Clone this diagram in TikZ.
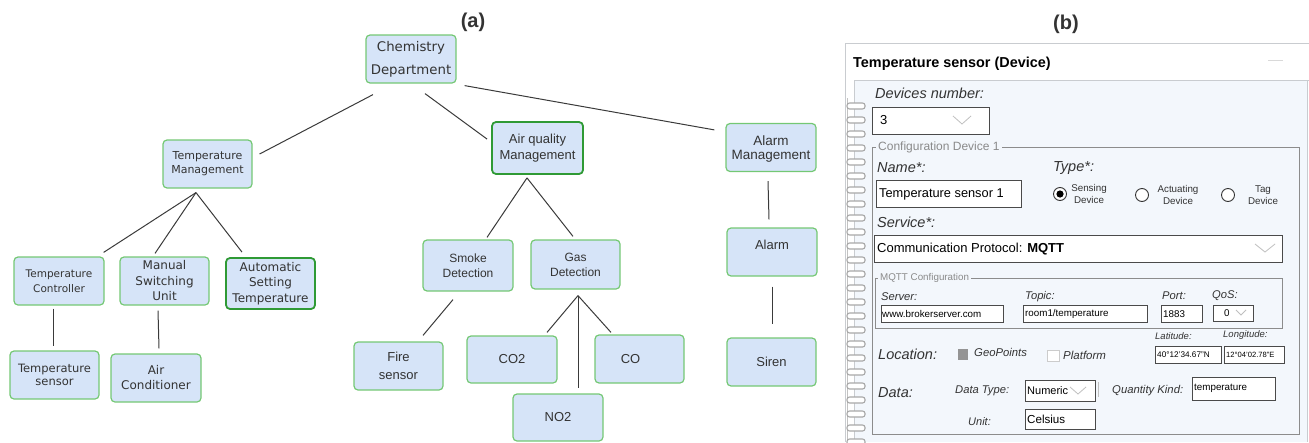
\documentclass[tikz,border=0pt]{standalone}
\usepackage{fontspec}
\setmainfont{Liberation Sans}
\newfontfamily\dvs{DejaVu Sans}
\usetikzlibrary{calc}

\definecolor{nodefill}{HTML}{D6E4F8}
\definecolor{nodeline}{HTML}{74C874}
\definecolor{nodelinedk}{HTML}{2F9A35}
\definecolor{edgecol}{HTML}{3A3A3A}
\definecolor{panelfill}{HTML}{F3F7FC}
\definecolor{panelline}{HTML}{C9CCD0}
\definecolor{boxline}{HTML}{8C8C8C}
\definecolor{fieldline}{HTML}{4A4A4A}
\definecolor{captioncol}{HTML}{8A8A8A}
\definecolor{ringcol}{HTML}{A8A8A8}
\definecolor{txt}{HTML}{333333}

\begin{document}
\begin{tikzpicture}[x=1pt,y=-1pt,
  box/.style={draw=nodeline, fill=nodefill, rounded corners=4pt, line width=1.2pt,
    minimum width=90pt, minimum height=48pt, align=center, inner sep=0pt, text=txt},
  boxdk/.style={box, draw=nodelinedk, line width=1.8pt},
  dvf/.style 2 args={font=\dvs\fontsize{#1}{#2}\selectfont},
  lbf/.style 2 args={font=\fontsize{#1}{#2}\selectfont},
  edge/.style={draw=edgecol, line width=1pt},
  lab/.style={anchor=west, inner sep=0pt, text=txt, font=\itshape\fontsize{#1}{#1}\selectfont},
  ftxt/.style={anchor=west, inner sep=0pt, text=black, font=\fontsize{#1}{#1}\selectfont},
  cap/.style={anchor=west, inner xsep=2pt, inner ysep=0pt, fill=panelfill, text=captioncol, font=\fontsize{#1}{#1}\selectfont},
  field/.style={draw=fieldline, fill=white, line width=0.9pt},
  chev/.style={draw=black!25, line width=0.8pt},
  ring/.style={draw=ringcol, fill=white, line width=1.1pt, rounded corners=2.5pt},
  radio/.style={draw=black!80, fill=white, line width=0.9pt},
  rtxt/.style={align=center, inner sep=0pt, text=txt, font=\fontsize{9.8}{11.5}\selectfont},
  title/.style={font=\bfseries\fontsize{20}{20}\selectfont, text=txt, inner sep=0pt}
]
\useasboundingbox (0,0) rectangle (1309,442);

% ---------------- (a) hierarchy ----------------
\node[title] (ta) at (473,22) {(a)};

\node[box, dvf={13.3}{23}] (chem) at (411,59) {Chemistry\\Department};
\node[box, dvf={11}{14}, minimum width=89pt] (tm) at (207.5,164) {Temperature\\Management};
\node[boxdk, lbf={13}{16}, minimum width=91pt, minimum height=52pt] (aq) at (537.5,148) {Air quality\\Management};
\node[box, lbf={13.5}{13.5}, text depth=-2pt] (am) at (771,147.5) {Alarm\\Management};

\node[box, dvf={10.5}{15}] (tc) at (59,281) {Temperature\\Controller};
\node[box, dvf={12}{15.5}, minimum width=89pt] (msu) at (164.5,281) {Manual\\Switching\\Unit};
\node[boxdk, dvf={12}{15.5}, minimum width=89pt, minimum height=51pt] (ast) at (270.5,283.5) {Automatic\\Setting\\Temperature};
\node[box, dvf={11.5}{13.5}, minimum width=89pt] (ts) at (54.5,375) {Temperature\\sensor};
\node[box, dvf={12}{15}] (ac) at (156,378) {Air\\Conditioner};

\node[box, lbf={12}{15}, minimum height=51pt] (sd) at (468,265.5) {Smoke\\Detection};
\node[box, lbf={12}{15}, minimum width=89pt, minimum height=49pt] (gd) at (575.5,264.5) {Gas\\Detection};
\node[box, lbf={13}{18}, minimum width=89pt] (fs) at (398.5,366) {Fire\\sensor};
\node[box, lbf={13}{15}, minimum height=47pt] (co2) at (512,359.5) {CO2};
\node[box, lbf={13}{15}, minimum width=89pt] (co) at (639.5,359) {CO\hspace*{18pt}};
\node[box, lbf={13}{15}, minimum height=47pt] (no2) at (558,417.5) {NO2};

\node[box, lbf={13}{15}, text depth=14pt] (al) at (772,252) {Alarm};
\node[box, lbf={13}{15}, minimum width=89pt] (si) at (771.5,362) {Siren};

% connectors
\coordinate (tmj) at ($(tm.south)+(-11.5,4)$);
\coordinate (aqj) at ($(aq.south)+(-10.5,3)$);
\coordinate (gdj) at ($(gd.south)+(2.5,6)$);

\draw[edge] ($(chem.south)+(-38,11)$) -- ($(tm.east)+(7,-10)$);
\draw[edge] ($(chem.south)+(14,10)$) -- ($(aq.north west)+(-4,18)$);
\draw[edge] ($(chem.south east)+(8,2)$) -- ($(am.north west)+(-11,7)$);

\draw[edge] (tmj) -- ($(tc.north east)+(-1,-4)$);
\draw[edge] (tmj) -- ($(msu.north)+(-9.5,-3)$);
\draw[edge] (tmj) -- ($(ast.north)+(-28.5,-5)$);
\draw[edge] ($(tc.south)+(-6,3)$) -- ($(ts.north)+(-1.5,-4)$);
\draw[edge] ($(msu.south)+(-6.5,5)$) -- ($(ac.north)+(3,-5)$);

\draw[edge] (aqj) -- ($(sd.north)+(19,-2)$);
\draw[edge] (aqj) -- ($(gd.north)+(-2.5,-3)$);
\draw[edge] ($(sd.south)+(-15,8)$) -- ($(fs.north)+(24.5,-6)$);
\draw[edge] (gdj) -- ($(co2.north)+(35,-3)$);
\draw[edge] (gdj) -- ($(no2.north)+(20,-5)$);
\draw[edge] (gdj) -- ($(co.north)+(-28.5,-2)$);

\draw[edge] ($(am.south)+(-3,9)$) -- ($(al.north)+(-3,-8)$);
\draw[edge] ($(al.south)+(0,10)$) -- ($(si.north)+(0.5,-13)$);

% ---------------- (b) device form ----------------
\node[title] (tb) at (1066,24) {(b)};

% window card and header
\draw[panelline, line width=0.8pt] (1309,43) -- (845,43) -- (845,442);
\node[anchor=west, inner sep=0pt, text=black, font=\bfseries\fontsize{14.4}{16}\selectfont] (hdr) at (853,64) {Temperature sensor (Device)};
\draw[black!15, line width=1pt] (1268,60) -- (1283,60);

% notebook page
\fill[panelfill] (854,80) rectangle (1307,442);
\draw[panelline, line width=0.8pt] (854,442) -- (854,80) -- (1309,80);
\draw[panelline, line width=0.8pt] (1307,80) -- (1307,442);

% spiral binding
\draw[ringcol!70, line width=1pt] (847,98) -- (847,442);
\foreach \k in {0,...,24} {
  \pgfmathsetmacro\yy{106+14*\k}
  \draw[ring] (847,\yy-3) rectangle (865,\yy+3);
}

% devices number
\node[lab=14.5] (dnl) at (875,93) {Devices number:};
\draw[field] (872,107) rectangle (989,134);
\node[ftxt=13] (dnv) at (880,120.5) {3};
\draw[chev] (953,116) -- (962,124) -- (971,116);

% configuration group
\draw[boxline, line width=0.8pt] (872,147) rectangle (1299,434);
\node[cap=12] (cfg) at (876,147) {Configuration Device 1};

\node[lab=14.5] (nml) at (877,168) {Name*:};
\node[lab=14.5] (tyl) at (1053,168) {Type*:};
\draw[field] (876,180) rectangle (1021,207);
\node[ftxt=12.8] (nmv) at (879,194) {Temperature sensor 1};

\draw[radio] (1060,194) circle (6.5);
\fill[black] (1060,194) circle (3.6);
\node[rtxt] (rs) at (1089,194) {Sensing\\Device};
\draw[radio] (1142,195) circle (6.5);
\node[rtxt] (ra) at (1178,195) {Actuating\\Device};
\draw[radio] (1228,195) circle (6.5);
\node[rtxt] (rt) at (1263,195) {Tag\\Device};

\node[lab=14.5] (svl) at (877,222) {Service*:};
\draw[field] (874,235) rectangle (1282,262);
\node[ftxt=13] (svv) at (877,249) {Communication Protocol: \textbf{MQTT}};
\draw[chev] (1255,244) -- (1265,252) -- (1275,244);

% MQTT group
\draw[boxline, line width=0.8pt] (875,278) rectangle (1282,328);
\node[cap=9.8] (mq) at (878,278) {MQTT Configuration};
\node[lab=11.2] (sl) at (881,297) {Server:};
\node[lab=11.2] (tl) at (1025,297) {Topic:};
\node[lab=11.2] (pl) at (1162,296) {Port:};
\node[lab=11.2] (ql) at (1212,296) {QoS:};
\draw[field] (881,305) rectangle (1003,322);
\draw[field] (1023,305) rectangle (1147,322);
\draw[field] (1161,305) rectangle (1202,322);
\draw[field] (1213,305) rectangle (1253,321);
\node[ftxt=9.8] (sv) at (882,314) {www.brokerserver.com};
\node[ftxt=9.8] (tv) at (1025,314) {room1/temperature};
\node[ftxt=9.8] (pv) at (1163,314) {1883};
\node[ftxt=9.8] (qv) at (1224,313) {0};
\draw[chev] (1236,310) -- (1241,315) -- (1246,310);

% location
\node[lab=9.5] (latl) at (1155,336) {Latitude:};
\node[lab=9.5] (lonl) at (1223,335) {Longitude:};
\draw[field] (1155,346) rectangle (1221,363);
\draw[field] (1224,346) rectangle (1284,363);
\node[ftxt=8.2] (latv) at (1157,354.5) {40°12'34.67''N};
\node[ftxt=7.6] (lonv) at (1226,354.5) {12°04'02.78''E};
\node[lab=14.5] (locl) at (878,354) {Location:};
\fill[black!42] (958,349) rectangle (968,360);
\node[lab=11.3] (gp) at (974,352) {GeoPoints};
\draw[black!20, fill=white, line width=0.8pt] (1047,350) rectangle (1059,361);
\node[lab=11.5] (pf) at (1063,355) {Platform};

% data
\node[lab=14.5] (dl) at (878,393) {Data:};
\node[lab=11.2] (dtl) at (955,391) {Data Type:};
\draw[field] (1025,380) rectangle (1095,401);
\node[ftxt=11] (dtv) at (1027,391) {Numeric};
\draw[chev] (1070,387) -- (1078,394) -- (1086,387);
\draw[black!25, line width=1pt] (1098,382) -- (1098,397);
\node[lab=11.3] (qkl) at (1112,391) {Quantity Kind:};
\draw[field] (1192,377) rectangle (1275,400);
\node[ftxt=9.8] (qkv) at (1194,388) {temperature};
\node[lab=11] (ul) at (968,422) {Unit:};
\draw[field] (1025,409) rectangle (1095,429);
\node[ftxt=11.6] (uv) at (1027,419) {Celsius};
\end{tikzpicture}
\end{document}
